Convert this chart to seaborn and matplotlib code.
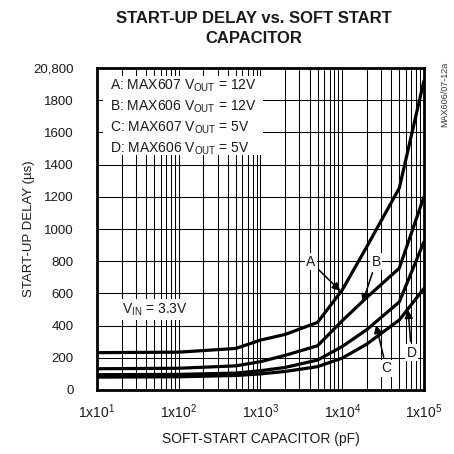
"""
START-UP DELAY vs. SOFT START CAPACITOR (MAX606/MAX607)

Run:
    python plot.py

Saves the figure to out.png.
"""

import matplotlib

matplotlib.use("Agg")

import matplotlib.pyplot as plt
import pandas as pd
import seaborn as sns
from matplotlib.patches import Rectangle
from matplotlib.ticker import FixedLocator, LogLocator, NullFormatter

# soft-start capacitor (pF)
CAP_PF = [10, 100, 500, 1000, 2000, 5000, 10000, 20000, 50000, 100000]

# start-up delay (us)
DELAY_A = [232, 235, 258, 310, 345, 420, 621, 890, 1255, 1920]
DELAY_B = [132, 135, 150, 176, 215, 275, 430, 575, 757, 1200]
DELAY_C = [95, 97, 105, 120, 140, 186, 270, 375, 547, 920]
DELAY_D = [80, 82, 90, 100, 115, 145, 198, 285, 435, 630]

CURVE_NAMES = ["A", "B", "C", "D"]
LEGEND_LINES = [
    "A: MAX607 V$_{OUT}$ = 12V",
    "B: MAX606 V$_{OUT}$ = 12V",
    "C: MAX607 V$_{OUT}$ = 5V",
    "D: MAX606 V$_{OUT}$ = 5V",
]

# label position, arrow tip  (capacitance, delay)
LABEL_POS = {"A": (4100, 797), "B": (26000, 797), "C": (34700, 135), "D": (70500, 232)}
ARROW_TIP = {"A": (9500, 615), "B": (17800, 545), "C": (26000, 404), "D": (64000, 497)}

Y_TICKS = [0, 200, 400, 600, 800, 1000, 1200, 1400, 1600, 1800, 2000]
Y_TICK_LABELS = ["0", "200", "400", "600", "800", "1000", "1200", "1400", "1600", "1800", "20,800"]
X_TICKS = [1e1, 1e2, 1e3, 1e4, 1e5]
X_TICK_LABELS = [f"1x10$^{{{k}}}$" for k in range(1, 6)]

FS = 10
INK = "#1a1a1a"


def build_frame() -> pd.DataFrame:
    frames = []
    for name, vals in zip(CURVE_NAMES, [DELAY_A, DELAY_B, DELAY_C, DELAY_D]):
        frames.append(pd.DataFrame({"cap": CAP_PF, "delay": vals, "curve": name}))
    return pd.concat(frames, ignore_index=True)


def main() -> None:
    sns.set_theme(style="white")
    plt.rcParams["font.family"] = ["Liberation Sans", "DejaVu Sans"]
    plt.rcParams["mathtext.default"] = "regular"

    df = build_frame()

    fig = plt.figure(figsize=(4.54, 4.54), dpi=100)
    ax = fig.add_axes([0.2137, 0.141, 0.720, 0.709])

    sns.lineplot(
        data=df,
        x="cap",
        y="delay",
        units="curve",
        estimator=None,
        color="black",
        linewidth=2.3,
        legend=False,
        ax=ax,
        zorder=4,
    )

    ax.set_xscale("log")
    ax.set_xlim(10, 100000)
    ax.set_ylim(0, 2000)

    ax.xaxis.set_major_locator(FixedLocator(X_TICKS))
    ax.xaxis.set_minor_locator(LogLocator(base=10, subs=range(2, 10)))
    ax.xaxis.set_minor_formatter(NullFormatter())
    ax.set_xticklabels(X_TICK_LABELS)
    ax.set_yticks(Y_TICKS)
    ax.set_yticklabels(Y_TICK_LABELS)
    ax.tick_params(axis="both", which="both", length=0, labelsize=FS, colors=INK)
    ax.tick_params(axis="y", labelsize=9.5, pad=17)
    ax.tick_params(axis="x", pad=9)

    ax.grid(True, which="major", color="black", linewidth=0.75)
    ax.grid(True, which="minor", axis="x", color="black", linewidth=0.75)
    ax.set_axisbelow(True)
    for spine in ax.spines.values():
        spine.set_color("black")
        spine.set_linewidth(2.0)

    ax.set_xlabel("SOFT-START CAPACITOR (pF)", fontsize=FS, color=INK, labelpad=8)
    ax.set_ylabel("START-UP DELAY (µs)", fontsize=9.5, color=INK)
    ax.yaxis.set_label_coords(-0.19, 0.5)
    ax.set_title(
        "START-UP DELAY vs. SOFT START\nCAPACITOR",
        fontsize=12,
        fontweight="bold",
        color=INK,
        pad=18,
        linespacing=1.45,
        x=0.48,
    )

    # white box behind the legend text
    ax.add_patch(
        Rectangle((0.018, 0.73), 0.49, 0.245, transform=ax.transAxes,
                  facecolor="white", edgecolor="none", zorder=2)
    )
    for i, line in enumerate(LEGEND_LINES):
        ax.text(0.04, 0.945 - i * 0.065, line, transform=ax.transAxes,
                fontsize=FS, color=INK, va="center", ha="left", zorder=3)

    ax.text(0.075, 0.25, "V$_{IN}$ = 3.3V", transform=ax.transAxes, fontsize=FS,
            color=INK, va="center", ha="left", zorder=3,
            bbox=dict(facecolor="white", edgecolor="none", pad=2))

    for name in CURVE_NAMES:
        ax.annotate(
            name,
            xy=ARROW_TIP[name],
            xytext=LABEL_POS[name],
            fontsize=FS,
            color=INK,
            ha="center",
            va="center",
            zorder=5,
            bbox=dict(facecolor="white", edgecolor="none", pad=1),
            arrowprops=dict(arrowstyle="-|>", color="black", lw=1.1,
                            mutation_scale=12, shrinkA=2, shrinkB=0),
        )

    fig.text(0.979, 0.793, "MAX606/07-12a", rotation=90, fontsize=6.5,
             color="#333333", ha="center", va="center")

    fig.savefig("out.png", dpi=100)
    plt.close(fig)


if __name__ == "__main__":
    main()
